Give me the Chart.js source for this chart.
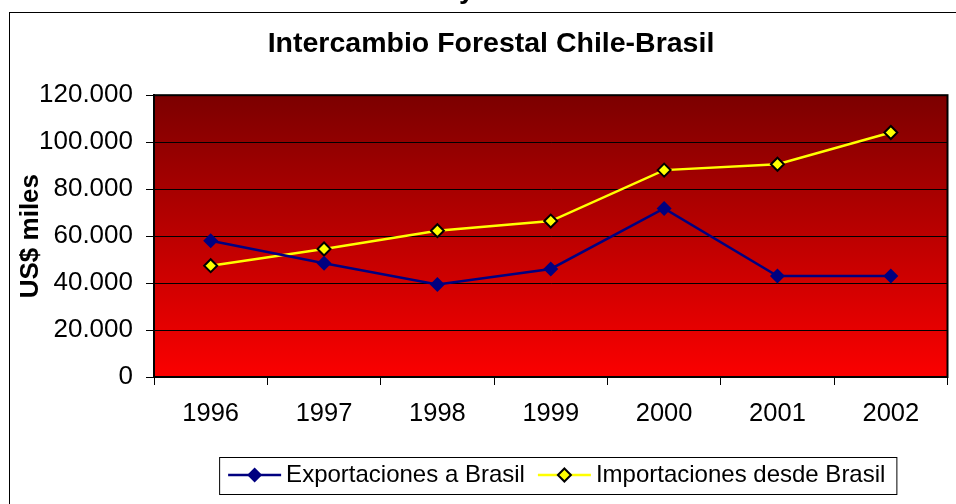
<!DOCTYPE html>
<html>
<head>
<meta charset="utf-8">
<script src="https://cdn.jsdelivr.net/npm/chart.js@4/dist/chart.umd.min.js"></script>
<style>
  html, body { margin:0; padding:0; background:#fff; }
  #wrap { width:956px; height:504px; position:relative; }
</style>
</head>
<body>
<div id="wrap"><canvas id="c"></canvas></div>
<script>
const years = ['1996','1997','1998','1999','2000','2001','2002'];
const exportaciones = [58000, 48400, 39400, 46000, 71800, 43000, 43000];
const importaciones = [47400, 54500, 62300, 66400, 88100, 90600, 104100];
const yTicks = [0, 20000, 40000, 60000, 80000, 100000, 120000];

const FONT = 'Liberation Sans, Arial, sans-serif';
Chart.defaults.font.family = FONT;
Chart.defaults.color = '#000';

const fmt = (v)=> String(v).replace(/\B(?=(\d{3})+(?!\d))/g, '.');

// fondo degradado + bordes + leyenda dibujada a mano
const deco = {
  id: 'deco',
  afterLayout(chart){
    // la leyenda del original va un poco corrida a la derecha
    const lg = chart.legend;
    if (!lg) return;
    lg.left += 6; lg.right += 6;
    lg.legendHitBoxes.forEach(h => { h.left += 6; });
  },
  beforeDraw(chart){
    const {ctx, chartArea:a} = chart;
    ctx.save();
    const g = ctx.createLinearGradient(0, a.top, 0, a.bottom);
    g.addColorStop(0, '#7c0000');
    g.addColorStop(1, '#fb0000');
    ctx.fillStyle = g;
    ctx.fillRect(a.left, a.top, a.right - a.left, a.bottom - a.top);
    // marco exterior
    ctx.strokeStyle = '#000'; ctx.lineWidth = 1;
    ctx.strokeRect(9.5, 12.5, 1200, 1200);
    // resto de un texto cortado arriba
    ctx.fillStyle = '#000';
    ctx.font = 'bold 28px ' + FONT;
    ctx.textBaseline = 'alphabetic';
    ctx.fillText('y', 459, -2);
    ctx.restore();
  },
  afterDatasetsDraw(chart){
    const {ctx, chartArea:a} = chart;
    ctx.save();
    ctx.strokeStyle = '#000'; ctx.lineWidth = 2;
    ctx.strokeRect(a.left, a.top, a.right - a.left, a.bottom - a.top);
    ctx.restore();
  },
  afterDraw(chart){
    const lg = chart.legend, ctx = chart.ctx;
    if (!lg || !lg.legendHitBoxes.length) return;
    const hb = lg.legendHitBoxes;
    ctx.save();
    const first = hb[0], last = hb[hb.length-1];
    ctx.strokeStyle = '#000'; ctx.lineWidth = 1;
    ctx.strokeRect(first.left - 9 + 0.5, first.top - 6 + 0.5, (last.left + last.width + 11) - (first.left - 9), 37);
    hb.forEach((h, i) => {
      const ds = chart.data.datasets[i];
      const cy = h.top + 12;
      ctx.strokeStyle = ds.borderColor; ctx.lineWidth = 2.5;
      ctx.beginPath(); ctx.moveTo(h.left, cy); ctx.lineTo(h.left + 53, cy); ctx.stroke();
      const cx = h.left + 26.5, r = ds.pointRadius;
      ctx.beginPath();
      ctx.moveTo(cx, cy - r); ctx.lineTo(cx + r, cy); ctx.lineTo(cx, cy + r); ctx.lineTo(cx - r, cy); ctx.closePath();
      ctx.fillStyle = ds.pointBackgroundColor; ctx.fill();
      if (ds.pointBorderWidth) { ctx.strokeStyle = ds.pointBorderColor; ctx.lineWidth = ds.pointBorderWidth; ctx.stroke(); }
    });
    ctx.restore();
  }
};

new Chart(document.getElementById('c'), {
  type: 'line',
  data: {
    labels: years,
    datasets: [
      { label:'Exportaciones a Brasil', data: exportaciones, borderColor:'#000080', borderWidth:2.5,
        pointStyle:'rectRot', pointRadius:7.5, pointBackgroundColor:'#000080', pointBorderColor:'#000080', pointBorderWidth:0,
        tension:0 },
      { label:'Importaciones desde Brasil', data: importaciones, borderColor:'#ffff00', borderWidth:2.5,
        pointStyle:'rectRot', pointRadius:6.5, pointBackgroundColor:'#ffff00', pointBorderColor:'#000', pointBorderWidth:2,
        tension:0 }
    ]
  },
  options: {
    responsive: true,
    maintainAspectRatio: false,
    animation: false,
    layout: { padding: { left:34, right:8, top:0, bottom:7 } },
    plugins: {
      title: { display:true, text:'Intercambio Forestal Chile-Brasil', color:'#000',
        font:{ size:28.5, weight:'bold' }, padding:{ top:27, bottom:34 } },
      legend: {
        position:'bottom', fullSize:false,
        labels: {
          font:{ size:24 }, color:'#000', boxWidth:46, boxHeight:3, padding:13,
          generateLabels(chart){
            return Chart.defaults.plugins.legend.labels.generateLabels(chart).map(l => ({
              ...l, fillStyle:'rgba(0,0,0,0)', strokeStyle:'rgba(0,0,0,0)', lineWidth:0
            }));
          }
        }
      },
      tooltip: { enabled:false }
    },
    scales: {
      x: {
        offset:true,
        grid:{ offset:true, drawOnChartArea:false, color:'#000', tickLength:8, lineWidth:1 },
        border:{ color:'#000', width:2 },
        ticks:{ font:{ size:25.5 }, color:'#000', padding:14, maxRotation:0 },
        afterFit(s){ s.height = 73; }
      },
      y: {
        min:0, max:120000,
        afterBuildTicks(s){ s.ticks = yTicks.map(v => ({ value:v })); },
        grid:{ color:'#000', lineWidth:1, tickLength:8 },
        border:{ color:'#000', width:2 },
        ticks:{ font:{ size:26 }, color:'#000', padding:13, callback:(v)=>fmt(v) },
        title:{ display:true, text:'US$ miles', color:'#000', font:{ size:26, weight:'bold' }, padding:{ top:-18.6, bottom:0 } },
        afterFit(s){ s.width = 120; }
      }
    }
  },
  plugins: [deco]
});
</script>
</body>
</html>
